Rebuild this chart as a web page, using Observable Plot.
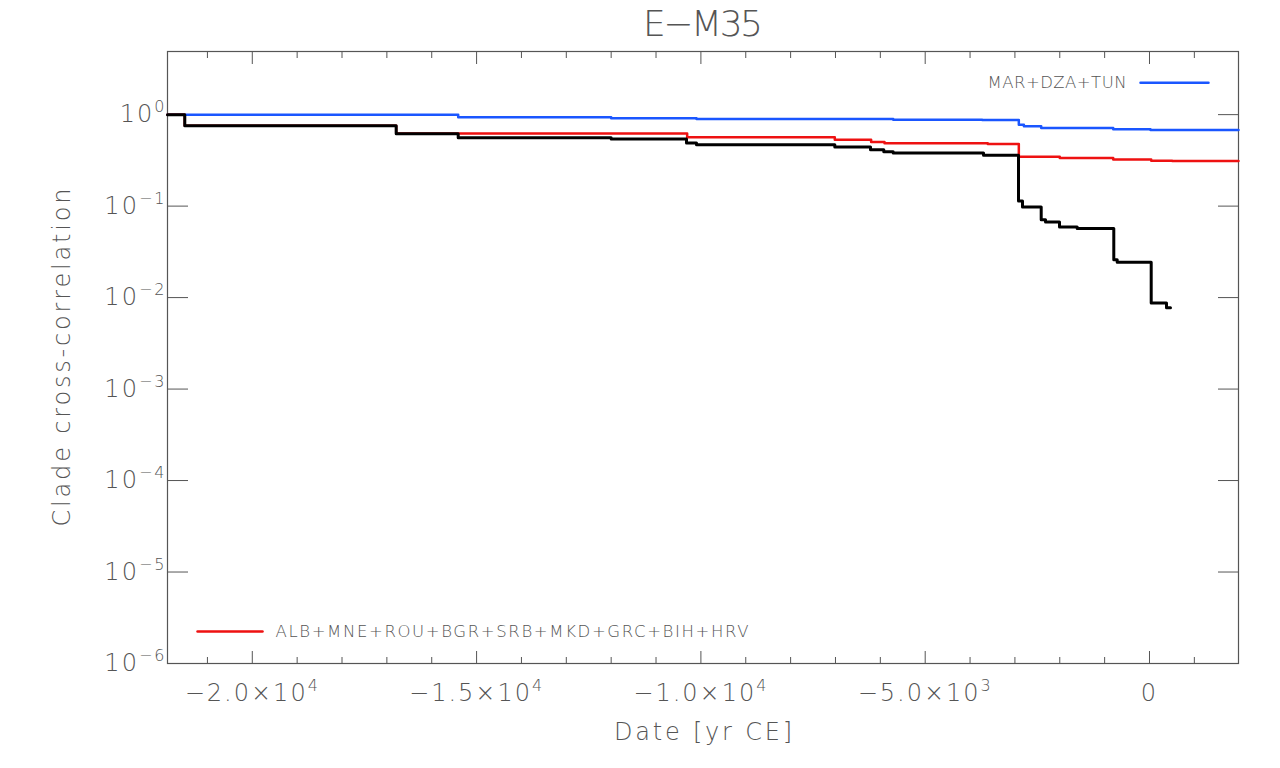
<!DOCTYPE html>
<html><head><meta charset="utf-8">
<script src="https://cdn.jsdelivr.net/npm/d3@7"></script>
<script src="https://cdn.jsdelivr.net/npm/@observablehq/plot@0.6"></script>
<style>
body{margin:0;background:#fff;}
g[aria-label="x-axis tick label"] text{letter-spacing:2px;}
g[aria-label="y-axis tick label"] text{letter-spacing:2px;}
</style></head><body><div id="chart"></div>
<script>
const title = "E−M35";
const xLabel = "Date [yr CE]";
const yLabel = "Clade cross-correlation";
const seriesNames = ["MAR+DZA+TUN", "ALB+MNE+ROU+BGR+SRB+MKD+GRC+BIH+HRV", "cross"];
const seriesColors = ["#1a56ff", "#ee1111", "#000000"];

const blueYears  = [-21890, -15410, -12000, -10098, -5713, -3729, -2913, -2800, -2414, -809, 22, 1984];
const blueValues = [1.0, 0.934, 0.911, 0.895, 0.882, 0.873, 0.777, 0.745, 0.714, 0.691, 0.679, 0.679];

const redYears  = [-21890, -21505, -16792, -10306, -7015, -6205, -5907, -3605, -2913, -2000, -809, 38, 506, 1984];
const redValues = [1.0, 0.758, 0.622, 0.565, 0.533, 0.502, 0.486, 0.477, 0.347, 0.335, 0.324, 0.314, 0.311, 0.311];

const blackYears  = [-21890, -21505, -16792, -15410, -12000, -10321, -10098, -7015, -6219, -5923, -5713, -3700, -2920, -2831, -2414, -2318, -2006, -1612, -796, -720, 38, 379, 468];
const blackValues = [1.0, 0.758, 0.620, 0.560, 0.541, 0.489, 0.470, 0.442, 0.414, 0.394, 0.380, 0.359, 0.1136, 0.0976, 0.0711, 0.0669, 0.0590, 0.0571, 0.0260, 0.0243, 0.00871, 0.00776, 0.00776];

const xMajorTicks = [-20000, -15000, -10000, -5000, 0];
const xTickLabels = ["−2.0×10^4", "−1.5×10^4", "−1.0×10^4", "−5.0×10^3", "0"];
const xMinorTicks = [-21000, -19000, -18000, -17000, -16000, -14000, -13000, -12000, -11000, -9000, -8000, -7000, -6000, -4000, -3000, -2000, -1000, 1000];
const yTicks = [1, 0.1, 0.01, 0.001, 0.0001, 0.00001, 0.000001];
const yTickLabels = ["10^0", "10^−1", "10^−2", "10^−3", "10^−4", "10^−5", "10^−6"];

const rows = [];
[[blueYears, blueValues], [redYears, redValues], [blackYears, blackValues]].forEach(([ys, vs], k) => {
  ys.forEach((yr, i) => rows.push({series: seriesNames[k], year: yr, value: vs[i]}));
});

const lineShape = {draw(context, l) { context.moveTo(0, 0); context.lineTo(0, -l); }};
const textColor = "#555";

const plot = Plot.plot({
  width: 1280, height: 768,
  marginLeft: 167, marginRight: 42, marginTop: 51, marginBottom: 105,
  style: {fontFamily: "DejaVu Sans", fontWeight: 200, fontSize: "24px", color: "#555", background: "#fff"},
  x: {domain: [-21890, 1984]},
  y: {type: "log", domain: [1e-6, 4.9]},
  marks: [
    Plot.frame({stroke: "#555", strokeWidth: 1.2}),
    Plot.axisX(xMajorTicks, {anchor: "bottom", tickSize: -12, tickPadding: 32, label: null, fill: textColor,
      tickFormat: d => xTickLabels[xMajorTicks.indexOf(d)]}),
    Plot.axisX(xMinorTicks, {anchor: "bottom", tickSize: -6, label: null, tickFormat: () => ""}),
    Plot.axisX(xMajorTicks, {anchor: "top", tickSize: -12, label: null, tickFormat: () => ""}),
    Plot.axisX(xMinorTicks, {anchor: "top", tickSize: -6, label: null, tickFormat: () => ""}),
    Plot.axisY(yTicks, {anchor: "left", tickSize: -21, tickPadding: 22, label: null, fill: textColor,
      tickFormat: d => yTickLabels[yTicks.indexOf(d)]}),
    Plot.axisY(yTicks, {anchor: "right", tickSize: -21, label: null, tickFormat: () => ""}),
    Plot.line(rows.filter(d => d.series === seriesNames[0]), {x: "year", y: "value", stroke: seriesColors[0], strokeWidth: 2.5, curve: "step-after"}),
    Plot.line(rows.filter(d => d.series === seriesNames[1]), {x: "year", y: "value", stroke: seriesColors[1], strokeWidth: 2.5, curve: "step-after"}),
    Plot.line(rows.filter(d => d.series === seriesNames[2]), {x: "year", y: "value", stroke: seriesColors[2], strokeWidth: 3, curve: "step-after"}),
    Plot.text([title], {text: d => d, frameAnchor: "top", dy: -27, fontSize: 36, textAnchor: "middle", lineAnchor: "middle", fill: textColor}),
    Plot.text([xLabel], {text: d => d, frameAnchor: "bottom", dy: 69, fontSize: 24, textAnchor: "middle", lineAnchor: "middle", fill: textColor}),
    Plot.text([yLabel], {text: d => d, frameAnchor: "left", dx: -105, rotate: -90, fontSize: 24, textAnchor: "middle", lineAnchor: "middle", fill: textColor}),
    Plot.vector([seriesNames[0]], {frameAnchor: "top-right", dx: -98, dy: 31.3, length: 68, rotate: 90, anchor: "start", shape: lineShape, stroke: seriesColors[0], strokeWidth: 2.5}),
    Plot.text([seriesNames[0]], {text: d => d, frameAnchor: "top-right", dx: -112, dy: 31.3, textAnchor: "end", lineAnchor: "middle", fontSize: 16.5, fill: textColor}),
    Plot.vector([seriesNames[1]], {frameAnchor: "bottom-left", dx: 30, dy: -32, length: 65, rotate: 90, anchor: "start", shape: lineShape, stroke: seriesColors[1], strokeWidth: 2.5}),
    Plot.text([seriesNames[1]], {text: d => d, frameAnchor: "bottom-left", dx: 108, dy: -32, textAnchor: "start", lineAnchor: "middle", fontSize: 16.5, fill: textColor})
  ]
});

// superscripts
plot.querySelectorAll("text").forEach(t => {
  const s = t.textContent;
  if (s.includes("^")) {
    const [base, exp] = s.split("^");
    t.textContent = base;
    const ts = document.createElementNS("http://www.w3.org/2000/svg", "tspan");
    ts.setAttribute("dy", "-10");
    ts.setAttribute("font-size", "16");
    ts.textContent = exp;
    t.appendChild(ts);
  }
});
// stretch wide-set labels to the reference widths
const fit = new Map([[title, 120], [xLabel, 178], [yLabel, 338], [seriesNames[0], 139], [seriesNames[1], 473]]);
plot.querySelectorAll("text").forEach(t => {
  const w = fit.get(t.textContent);
  if (w) {
    t.setAttribute("textLength", w);
    t.setAttribute("lengthAdjust", "spacing");
  }
});
document.getElementById("chart").appendChild(plot);
</script></body></html>
